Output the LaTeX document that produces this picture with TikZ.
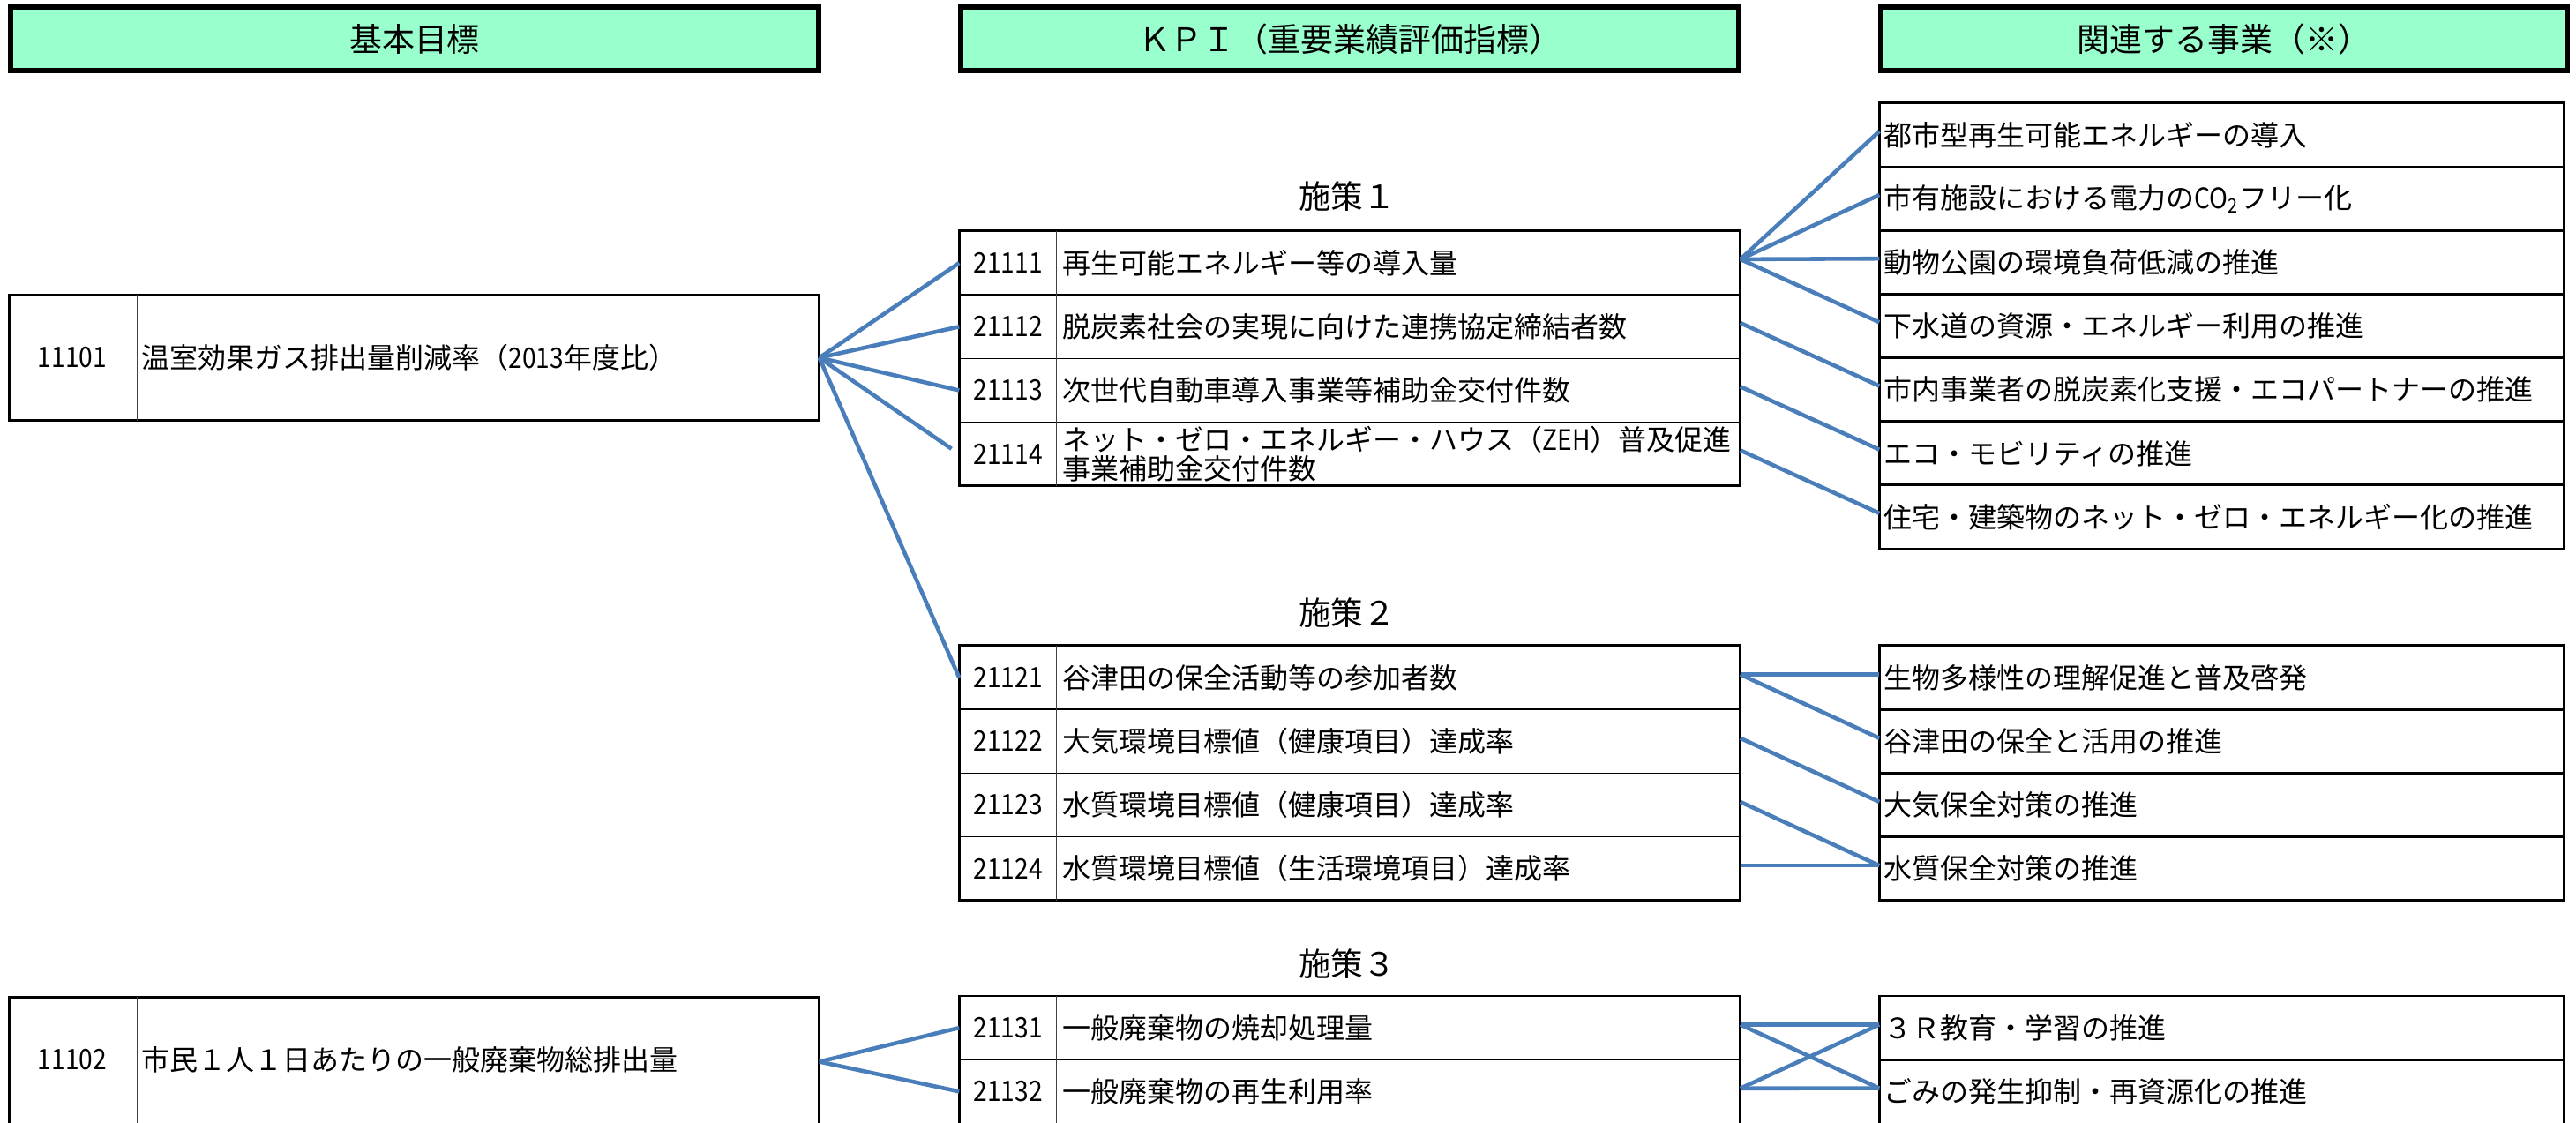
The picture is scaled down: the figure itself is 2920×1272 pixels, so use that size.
\documentclass[tikz,border=0pt]{standalone}
\usepackage{fontspec}
\usepackage{graphicx}
\setmainfont{Noto Sans CJK JP}
\definecolor{mint}{RGB}{153,255,204}
\definecolor{connblue}{RGB}{74,126,187}
\newcommand{\narrow}[1]{\scalebox{0.88}[1]{#1}}
\begin{document}
\begin{tikzpicture}[x=0.01cm,y=-0.01cm,
  hdr/.style={draw, line width=1.7pt, fill=mint, minimum height=0.72cm, inner sep=0pt, outer sep=0pt, font=\fontsize{10.5pt}{12pt}\selectfont},
  goalbox/.style={draw, line width=0.85pt, minimum width=9.18cm, inner sep=0pt, outer sep=0pt},
  kpirow/.style={draw, line width=0.45pt, minimum width=8.85cm, minimum height=0.722cm, inner sep=0pt, outer sep=0pt},
  kpiframe/.style={draw, line width=0.85pt},
  jrow/.style={draw, line width=0.85pt, minimum width=7.76cm, minimum height=0.722cm, inner sep=0pt, outer sep=0pt},
  divider/.style={draw=black!75, line width=0.3pt},
  num/.style={inner sep=0pt, font=\fontsize{9.1pt}{9.4pt}\selectfont},
  txt/.style={anchor=west, inner sep=0pt, font=\fontsize{9.1pt}{9.4pt}\selectfont},
  seclabel/.style={inner sep=0pt, font=\fontsize{10.4pt}{12pt}\selectfont},
  conn/.style={draw=connblue, line width=1.3pt}
]
\useasboundingbox (0,0) rectangle (2920,1272);
\clip (0,0) rectangle (2920,1272);
\fill[white] (0,0) rectangle (2920,1272);

% ---------- headers ----------
\node[hdr, minimum width=9.16cm] (h1) at (470,44) {基本目標};
\node[hdr, minimum width=8.82cm] (h2) at (1530,44) {ＫＰＩ（重要業績評価指標）};
\node[hdr, minimum width=7.78cm] (h3) at (2521,44) {関連する事業（※）};

% ---------- basic goals ----------
\node[goalbox, minimum height=1.42cm] (g1) at (469.5,405.5) {};
\draw[divider] ([xshift=1.45cm]g1.north west) -- ([xshift=1.45cm]g1.south west);
\node[num] (g1n) at (82,405.5) {\narrow{11101}};
\node[txt] (g1t) at (160,405.5) {温室効果ガス排出量削減率（\narrow{2013}年度比）};

\node[goalbox, minimum height=1.46cm] (g2) at (469.5,1203.5) {};
\draw[divider] ([xshift=1.45cm]g2.north west) -- ([xshift=1.45cm]g2.south west);
\node[num] (g2n) at (82,1201.5) {\narrow{11102}};
\node[txt] (g2t) at (160,1201.5) {市民１人１日あたりの一般廃棄物総排出量};

% ---------- section labels ----------
\node[seclabel] (s1) at (1527,223) {施策１};
\node[seclabel] (s2) at (1527,695) {施策２};
\node[seclabel] (s3) at (1527,1093) {施策３};

% ---------- KPI table 1 ----------
\node[kpirow] (k11) at (1530,298.1) {};
\node[kpirow] (k12) at (1530,370.3) {};
\node[kpirow] (k13) at (1530,442.5) {};
\node[kpirow] (k14) at (1530,514.7) {};
\draw[kpiframe] (k11.north west) rectangle (k14.south east);
\draw[divider] ([xshift=1.105cm]k11.north west) -- ([xshift=1.105cm]k14.south west);
\node[num] (k11n) at (1142.75,298.1) {\narrow{21111}};
\node[num] (k12n) at (1142.75,370.3) {\narrow{21112}};
\node[num] (k13n) at (1142.75,442.5) {\narrow{21113}};
\node[num] (k14n) at (1142.75,514.7) {\narrow{21114}};
\node[txt] (k11t) at (1204,298.1) {再生可能エネルギー等の導入量};
\node[txt] (k12t) at (1204,370.3) {脱炭素社会の実現に向けた連携協定締結者数};
\node[txt] (k13t) at (1204,442.5) {次世代自動車導入事業等補助金交付件数};
\node[txt, align=left] (k14t) at (1204,514.7) {ネット・ゼロ・エネルギー・ハウス（\narrow{ZEH}）普及促進\\事業補助金交付件数};

% ---------- KPI table 2 ----------
\node[kpirow] (k21) at (1530,768.1) {};
\node[kpirow] (k22) at (1530,840.3) {};
\node[kpirow] (k23) at (1530,912.5) {};
\node[kpirow] (k24) at (1530,984.7) {};
\draw[kpiframe] (k21.north west) rectangle (k24.south east);
\draw[divider] ([xshift=1.105cm]k21.north west) -- ([xshift=1.105cm]k24.south west);
\node[num] (k21n) at (1142.75,768.1) {\narrow{21121}};
\node[num] (k22n) at (1142.75,840.3) {\narrow{21122}};
\node[num] (k23n) at (1142.75,912.5) {\narrow{21123}};
\node[num] (k24n) at (1142.75,984.7) {\narrow{21124}};
\node[txt] (k21t) at (1204,768.1) {谷津田の保全活動等の参加者数};
\node[txt] (k22t) at (1204,840.3) {大気環境目標値（健康項目）達成率};
\node[txt] (k23t) at (1204,912.5) {水質環境目標値（健康項目）達成率};
\node[txt] (k24t) at (1204,984.7) {水質環境目標値（生活環境項目）達成率};

% ---------- KPI table 3 ----------
\node[kpirow] (k31) at (1530,1165.1) {};
\node[kpirow] (k32) at (1530,1237.3) {};
\draw[kpiframe] (k32.south west) -- (k31.north west) -- (k31.north east) -- (k32.south east);
\draw[divider] ([xshift=1.105cm]k31.north west) -- ([xshift=1.105cm]k32.south west);
\node[num] (k31n) at (1142.75,1165.1) {\narrow{21131}};
\node[num] (k32n) at (1142.75,1237.3) {\narrow{21132}};
\node[txt] (k31t) at (1204,1165.1) {一般廃棄物の焼却処理量};
\node[txt] (k32t) at (1204,1237.3) {一般廃棄物の再生利用率};

% ---------- related projects 1 ----------
\node[jrow] (r11) at (2518.5,153.1) {};
\node[jrow] (r12) at (2518.5,225.2) {};
\node[jrow] (r13) at (2518.5,297.4) {};
\node[jrow] (r14) at (2518.5,369.5) {};
\node[jrow] (r15) at (2518.5,441.7) {};
\node[jrow] (r16) at (2518.5,513.8) {};
\node[jrow] (r17) at (2518.5,586.0) {};
\node[txt] (r11t) at (2135,153.1) {都市型再生可能エネルギーの導入};
\node[txt] (r12t) at (2135,225.2) {市有施設における電力の\narrow{CO\textsubscript{2}}フリー化};
\node[txt] (r13t) at (2135,297.4) {動物公園の環境負荷低減の推進};
\node[txt] (r14t) at (2135,369.5) {下水道の資源・エネルギー利用の推進};
\node[txt] (r15t) at (2135,441.7) {市内事業者の脱炭素化支援・エコパートナーの推進};
\node[txt] (r16t) at (2135,513.8) {エコ・モビリティの推進};
\node[txt] (r17t) at (2135,586.0) {住宅・建築物のネット・ゼロ・エネルギー化の推進};

% ---------- related projects 2 ----------
\node[jrow] (r21) at (2518.5,768.1) {};
\node[jrow] (r22) at (2518.5,840.3) {};
\node[jrow] (r23) at (2518.5,912.5) {};
\node[jrow] (r24) at (2518.5,984.7) {};
\node[txt] (r21t) at (2135,768.1) {生物多様性の理解促進と普及啓発};
\node[txt] (r22t) at (2135,840.3) {谷津田の保全と活用の推進};
\node[txt] (r23t) at (2135,912.5) {大気保全対策の推進};
\node[txt] (r24t) at (2135,984.7) {水質保全対策の推進};

% ---------- related projects 3 ----------
\node[jrow] (r31) at (2518.5,1165.1) {};
\node[jrow, minimum height=0.76cm] (r32) at (2518.5,1239.2) {};
\node[txt] (r31t) at (2135,1165.1) {３Ｒ教育・学習の推進};
\node[txt] (r32t) at (2135,1237.3) {ごみの発生抑制・再資源化の推進};

% ---------- connectors ----------
\draw[conn] (g1.east) -- (k11.west);
\draw[conn] (g1.east) -- (k12.west);
\draw[conn] (g1.east) -- (k13.west);
\draw[conn, shorten >=3pt] (g1.east) -- (k14.west);
\draw[conn] (g1.east) -- (k21.west);

\draw[conn] ([yshift=1.2pt]k11.east) -- ([yshift=1.2pt]r11.west);
\draw[conn] ([yshift=1.2pt]k11.east) -- ([yshift=1.2pt]r12.west);
\draw[conn] ([yshift=1.2pt]k11.east) -- ([yshift=1.2pt]r13.west);
\draw[conn] ([yshift=1.2pt]k11.east) -- ([yshift=1.2pt]r14.west);
\draw[conn] ([yshift=1.2pt]k12.east) -- ([yshift=1.2pt]r15.west);
\draw[conn] ([yshift=1.2pt]k13.east) -- ([yshift=1.2pt]r16.west);
\draw[conn] ([yshift=1.2pt]k14.east) -- ([yshift=1.2pt]r17.west);

\draw[conn] ([yshift=1.0pt]k21.east) -- ([yshift=1.0pt]r21.west);
\draw[conn] ([yshift=1.0pt]k21.east) -- ([yshift=1.0pt]r22.west);
\draw[conn] ([yshift=1.0pt]k22.east) -- ([yshift=1.0pt]r23.west);
\draw[conn] ([yshift=1.0pt]k23.east) -- ([yshift=1.0pt]r24.west);
\draw[conn] ([yshift=1.0pt]k24.east) -- ([yshift=1.0pt]r24.west);

\draw[conn] ([yshift=1.0pt]k31.east) -- ([yshift=1.0pt]r31.west);
\draw[conn] ([yshift=1.0pt]k31.east) -- ([yshift=1.6pt]r32.west);
\draw[conn] ([yshift=1.0pt]k32.east) -- ([yshift=1.6pt]r32.west);
\draw[conn] ([yshift=1.0pt]k32.east) -- ([yshift=1.0pt]r31.west);

\draw[conn] (g2.east) -- (k31.west);
\draw[conn] (g2.east) -- (k32.west);
\end{tikzpicture}
\end{document}
